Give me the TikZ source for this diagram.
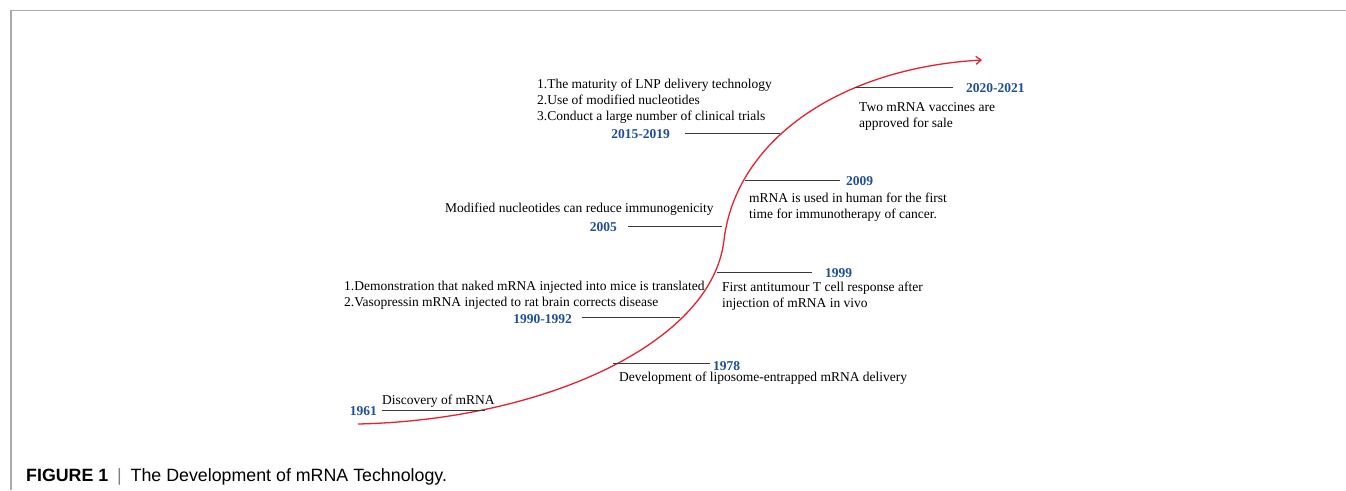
\documentclass[tikz,border=0pt]{standalone}
\usepackage{fontspec}
\setmainfont{Liberation Serif}
\newfontfamily\capfont{Liberation Sans}
\usetikzlibrary{arrows.meta}
\definecolor{yrblue}{HTML}{1F4E9A}
\definecolor{curvered}{HTML}{E8202F}
\definecolor{framegray}{HTML}{AAAAAA}
\definecolor{tickgray}{HTML}{3A3A3A}

\begin{document}
\begin{tikzpicture}[x=1pt,y=-1pt,
  yr/.style={font=\fontsize{13.5}{16}\selectfont\bfseries,text=yrblue,inner sep=0pt},
  txt/.style={font=\fontsize{13.5}{16}\selectfont,align=left,inner sep=0pt},
  tick/.style={draw=tickgray,line width=0.8pt}]
\useasboundingbox (0,0) rectangle (1346,490);
\draw[framegray,line width=1.2pt] (1346,10.5) -- (11,10.5) -- (11,490);
% the timeline
\draw[curvered,line width=1.3pt,-{Straight Barb[length=5pt,width=8pt]}]
  (358,424) .. controls (540,420) and (712,345) .. (724,240)
  .. controls (736,140) and (840,68) .. (982,60);
% ends of the ticks
\foreach \yr/\xa/\xb/\yy in {1961/485/382/410,1978/613/710/363,1990/680/582/317,
  1999/717/812/272,2005/722/628/226,2009/745/840/180,2015/780/685/133,2020/855/953/87}
  {\coordinate (a\yr) at (\xa,\yy);
   \coordinate (b\yr) at (\xb,\yy);}
\foreach \yr in {1961,1978,1990,1999,2005,2009,2015,2020}
  {\draw[tick] (a\yr) -- (b\yr);}
% years
\node[yr,anchor=base east] (n1961) at (377,415) {1961};
\node[yr,anchor=base west] (n1978) at (713,370) {1978};
\node[yr,anchor=base east] (n1990) at (572,323) {1990-1992};
\node[yr,anchor=base west] (n1999) at (825,277) {1999};
\node[yr,anchor=base east] (n2005) at (617,231) {2005};
\node[yr,anchor=base west] (n2009) at (846,185) {2009};
\node[yr,anchor=base east] (n2015) at (670,138) {2015-2019};
\node[yr,anchor=base west] (n2020) at (966,92) {2020-2021};
% events (base = last line)
\node[txt,anchor=base west] (t1961) at (382,404) {Discovery of mRNA};
\node[txt,anchor=base west] (t1978) at (619,381) {Development of liposome-entrapped mRNA delivery};
\node[txt,anchor=base west] (t1990) at (344,306)
  {1.Demonstration that naked mRNA injected into mice is translated\\2.Vasopressin mRNA injected to rat brain corrects disease};
\node[txt,anchor=base west] (t1999) at (722,307)
  {First antitumour T cell response after\\injection of mRNA in vivo};
\node[txt,anchor=base west] (t2005) at (445,212) {Modified nucleotides can reduce immunogenicity};
\node[txt,anchor=base west] (t2009) at (749,218)
  {mRNA is used in human for the first\\time for immunotherapy of cancer.};
\node[txt,anchor=base west] (t2015) at (537,120)
  {1.The maturity of LNP delivery technology\\2.Use of modified nucleotides\\3.Conduct a large number of clinical trials};
\node[txt,anchor=base west] (t2020) at (859,127) {Two mRNA vaccines are\\approved for sale};
% caption
\node[anchor=base west,inner sep=0pt,font=\capfont\fontsize{17.8}{20}\selectfont] (caption) at (26,481)
  {\textbf{FIGURE 1}\enspace\textcolor{gray}{|}\enspace The Development of mRNA Technology.};
\end{tikzpicture}
\end{document}
